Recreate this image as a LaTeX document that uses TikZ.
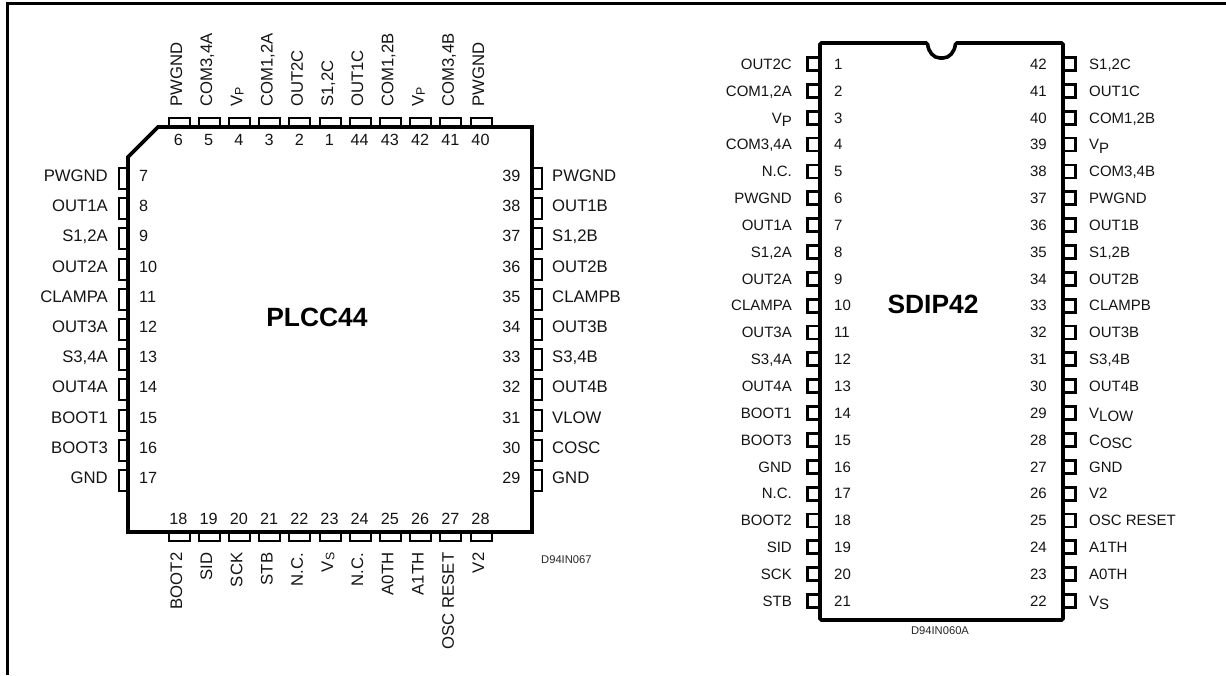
\documentclass[tikz,border=0pt]{standalone}
\usepackage{fontspec}
\setmainfont{Liberation Sans}
\newcommand{\lowsub}[2]{#1\raisebox{-0.22em}{#2}}
\newcommand{\smsub}[2]{#1\raisebox{-0.08em}{\fontsize{12.3}{13}\selectfont #2}}
\tikzset{
  x=1pt,y=-1pt,
  lab/.style={font=\fontsize{16.7}{18}\selectfont,inner sep=0pt,text=black!92},
  num/.style={font=\fontsize{16.2}{18}\selectfont,inner sep=0pt,text=black!92},
  dlab/.style={font=\fontsize{15}{17}\selectfont,inner sep=0pt,text=black!92},
  chip/.style={line width=3.6pt,line join=miter},
  thinpin/.style={line width=2pt,line join=miter},
  thickpin/.style={line width=2.8pt,line join=miter},
  title/.style={font=\fontsize{26.4}{28}\bfseries\selectfont,inner sep=0pt},
  code/.style={font=\fontsize{11.2}{13}\selectfont,inner sep=0pt,text=black!85},
}
\begin{document}
\begin{tikzpicture}
\useasboundingbox (0,0) rectangle (1226,675);
% outer frame
\draw[line width=3pt] (7.5,675) -- (7.5,3) -- (1226,3);
% ---------- PLCC44 ----------
\foreach \i/\n/\t in {0/6/PWGND,1/5/COM3{,}4A,2/4/\smsub{V}{P},3/3/COM1{,}2A,4/2/OUT2C,5/1/S1{,}2C,6/44/OUT1C,7/43/COM1{,}2B,8/42/\smsub{V}{P},9/41/COM3{,}4B,10/40/PWGND}{
  \pgfmathsetmacro\px{179+30.2*\i}
  \draw[thinpin] (\px-10.5,127) -- (\px-10.5,117.5) -- (\px+10.5,117.5) -- (\px+10.5,127);
  \node[num,anchor=base] (pt\n) at (\px-0.5,145.5) {\n};
  \node[lab,rotate=90,anchor=base west] (lt\n) at (\px+3,107) {\t};
}
\foreach \i/\n/\t in {0/18/BOOT2,1/19/SID,2/20/SCK,3/21/STB,4/22/N.C.,5/23/\smsub{V}{S},6/24/N.C.,7/25/A0TH,8/26/A1TH,9/27/OSC RESET,10/28/V2}{
  \pgfmathsetmacro\px{179+30.2*\i}
  \draw[thinpin] (\px-10.5,532) -- (\px-10.5,541) -- (\px+10.5,541) -- (\px+10.5,532);
  \node[num,anchor=base] (pb\n) at (\px-0.5,524) {\n};
  \node[lab,rotate=90,anchor=base east] (lb\n) at (\px+3,552.5) {\t};
}
\foreach \i/\n/\t in {0/7/PWGND,1/8/OUT1A,2/9/S1{,}2A,3/10/OUT2A,4/11/CLAMPA,5/12/OUT3A,6/13/S3{,}4A,7/14/OUT4A,8/15/BOOT1,9/16/BOOT3,10/17/GND}{
  \pgfmathsetmacro\py{178.5+30.2*\i}
  \draw[thinpin] (128,\py-10.5) -- (118.5,\py-10.5) -- (118.5,\py+10.5) -- (128,\py+10.5);
  \node[num,anchor=base west] (pl\n) at (139,\py+3) {\n};
  \node[lab,anchor=base east] (ll\n) at (108,\py+3) {\t};
}
\foreach \i/\n/\t in {0/39/PWGND,1/38/OUT1B,2/37/S1{,}2B,3/36/OUT2B,4/35/CLAMPB,5/34/OUT3B,6/33/S3{,}4B,7/32/OUT4B,8/31/VLOW,9/30/COSC,10/29/GND}{
  \pgfmathsetmacro\py{178.5+30.2*\i}
  \draw[thinpin] (532,\py-10.5) -- (542,\py-10.5) -- (542,\py+10.5) -- (532,\py+10.5);
  \node[num,anchor=base east] (pr\n) at (520.5,\py+3) {\n};
  \node[lab,anchor=base west] (lr\n) at (552,\py+3) {\t};
}
\draw[chip] (128,157) -- (158,127) -- (532,127) -- (532,532) -- (128,532) -- cycle;
\node[title] (plcc) at (317,317) {PLCC44};
\node[code,anchor=mid west] (c1) at (541,561) {D94IN067};
% ---------- SDIP42 ----------
\foreach \n/\t in {1/OUT2C,2/COM1{,}2A,3/\lowsub{V}{P},4/COM3{,}4A,5/N.C.,6/PWGND,7/OUT1A,8/S1{,}2A,9/OUT2A,10/CLAMPA,11/OUT3A,12/S3{,}4A,13/OUT4A,14/BOOT1,15/BOOT3,16/GND,17/N.C.,18/BOOT2,19/SID,20/SCK,21/STB}{
  \pgfmathsetmacro\py{64+26.85*(\n-1)}
  \draw[thickpin] (820,\py-6.5) -- (807.5,\py-6.5) -- (807.5,\py+6.5) -- (820,\py+6.5);
  \node[dlab,anchor=base west] (dl\n) at (834,\py+5.3) {\n};
  \node[dlab,anchor=base east] (dn\n) at (792,\py+5.3) {\t};
}
\foreach \n/\t in {42/S1{,}2C,41/OUT1C,40/COM1{,}2B,39/\lowsub{V}{P},38/COM3{,}4B,37/PWGND,36/OUT1B,35/S1{,}2B,34/OUT2B,33/CLAMPB,32/OUT3B,31/S3{,}4B,30/OUT4B,29/\lowsub{V}{LOW},28/\lowsub{C}{OSC},27/GND,26/V2,25/OSC RESET,24/A1TH,23/A0TH,22/\lowsub{V}{S}}{
  \pgfmathsetmacro\py{64+26.85*(42-\n)}
  \draw[thickpin] (1063,\py-6.5) -- (1075.5,\py-6.5) -- (1075.5,\py+6.5) -- (1063,\py+6.5);
  \node[dlab,anchor=base east] (dr\n) at (1047,\py+5.3) {\n};
  \node[dlab,anchor=base west] (dm\n) at (1089,\py+5.3) {\t};
}
\draw[chip,rounded corners=1.5pt] (820,43) -- (927.5,43)
  .. controls (928.5,52) and (933.5,58) .. (941.5,58) .. controls (949.5,58) and (954.5,52) .. (955.5,43)
  -- (1063,43) -- (1063,620) -- (820,620) -- cycle;
\node[title] (sdip) at (933,304) {SDIP42};
\node[code] (c2) at (940,631) {D94IN060A};
\end{tikzpicture}
\end{document}
